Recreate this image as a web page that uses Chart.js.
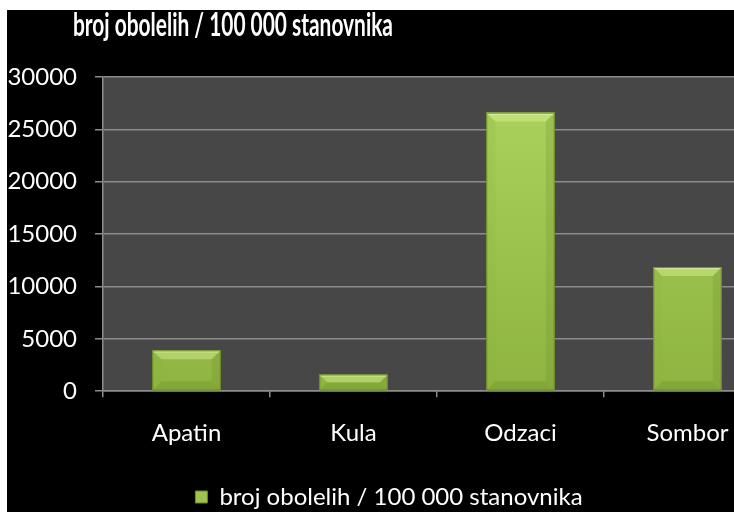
<!DOCTYPE html>
<html>
<head>
<meta charset="utf-8">
<script src="https://cdn.jsdelivr.net/npm/chart.js@4.4.1/dist/chart.umd.min.js"></script>
<style>
  html, body { margin: 0; padding: 0; background: #fff; width: 734px; height: 512px; overflow: hidden; }
  #wrap { position: absolute; left: 7px; top: 10px; width: 774px; height: 502px; background: #000; }
  #title { position: absolute; left: 66px; top: -6px; color: #fff; font: bold 32px Lato, sans-serif; white-space: nowrap; transform-origin: 0 0; }
  canvas { position: absolute; left: 0; top: 0; }
</style>
</head>
<body>
<div id="wrap">
  <canvas id="chart" width="774" height="502"></canvas>
  <div id="title">broj obolelih  / 100 000 stanovnika</div>
</div>
<script>
const categories = ['Apatin', 'Kula', 'Odzaci', 'Sombor'];
const values = [3900, 1600, 26600, 11850];
const seriesName = 'broj obolelih / 100 000 stanovnika';
const yTicks = [0, 5000, 10000, 15000, 20000, 25000, 30000];

// title is squeezed horizontally like in the original
const titleEl = document.getElementById('title');
titleEl.style.transform = 'scaleX(' + (320 / titleEl.offsetWidth) + ')';

// gray plot area behind the bars
const plotBg = {
    id: 'plotBg',
    beforeDraw(chart) {
        const a = chart.chartArea;
        const ctx = chart.ctx;
        ctx.save();
        ctx.fillStyle = '#474747';
        ctx.fillRect(a.left, a.top, a.right - a.left, a.bottom - a.top);
        ctx.restore();
    }
};

// excel-like bevel on each bar
const bevel = {
    id: 'bevel',
    afterDatasetsDraw(chart) {
        const ctx = chart.ctx;
        chart.getDatasetMeta(0).data.forEach(bar => {
            const l = bar.x - bar.width / 2, r = bar.x + bar.width / 2;
            const t = bar.y, b = bar.base;
            const d = Math.min(9, (b - t) / 2);
            ctx.save();
            // top
            ctx.fillStyle = 'rgba(225,250,160,0.4)';
            ctx.beginPath();
            ctx.moveTo(l, t); ctx.lineTo(r, t); ctx.lineTo(r - d, t + d); ctx.lineTo(l + d, t + d);
            ctx.closePath(); ctx.fill();
            // left
            ctx.fillStyle = 'rgba(140,180,60,0.2)';
            ctx.beginPath();
            ctx.moveTo(l, t); ctx.lineTo(l + d, t + d); ctx.lineTo(l + d, b - d); ctx.lineTo(l, b);
            ctx.closePath(); ctx.fill();
            // right
            ctx.fillStyle = 'rgba(100,130,40,0.2)';
            ctx.beginPath();
            ctx.moveTo(r, t); ctx.lineTo(r - d, t + d); ctx.lineTo(r - d, b - d); ctx.lineTo(r, b);
            ctx.closePath(); ctx.fill();
            // bottom
            ctx.fillStyle = 'rgba(90,120,30,0.22)';
            ctx.beginPath();
            ctx.moveTo(l, b); ctx.lineTo(l + d, b - d); ctx.lineTo(r - d, b - d); ctx.lineTo(r, b);
            ctx.closePath(); ctx.fill();
            // light top edge
            ctx.strokeStyle = 'rgba(235,255,180,0.7)';
            ctx.beginPath();
            ctx.moveTo(l + 1, t + 1.5); ctx.lineTo(r - 1, t + 1.5);
            ctx.stroke();
            ctx.strokeStyle = '#6a8a28';
            ctx.lineWidth = 1;
            ctx.strokeRect(l + 0.5, t + 0.5, r - l - 1, b - t - 1);
            ctx.restore();
        });
    }
};

function barFill(context) {
    const chart = context.chart;
    const a = chart.chartArea;
    if (!a) return '#9cc44e';
    const g = chart.ctx.createLinearGradient(0, a.top, 0, a.bottom);
    g.addColorStop(0, '#acd45e');
    g.addColorStop(1, '#8fb441');
    return g;
}

new Chart(document.getElementById('chart'), {
    type: 'bar',
    data: {
        labels: categories,
        datasets: [{
            label: seriesName,
            data: values,
            backgroundColor: barFill,
            borderWidth: 0,
            categoryPercentage: 1,
            barPercentage: 0.41
        }]
    },
    options: {
        responsive: false,
        animation: false,
        layout: { padding: { top: 67, left: 0, right: 10, bottom: -7 } },
        scales: {
            x: {
                afterFit: axis => { axis.height += 9; },
                grid: { drawOnChartArea: false, drawTicks: true, tickLength: 6, color: '#8c8c8c', lineWidth: 1.5 },
                border: { color: '#8c8c8c', width: 1.5 },
                ticks: { color: '#fff', font: { family: 'Lato', size: 24 }, padding: 22 }
            },
            y: {
                min: 0,
                max: 30000,
                afterBuildTicks: axis => { axis.ticks = yTicks.map(v => ({ value: v })); },
                afterFit: axis => { axis.width = 96; },
                grid: { color: '#8c8c8c', lineWidth: 1.5, tickLength: 8 },
                border: { color: '#8c8c8c', width: 1.5 },
                ticks: {
                    color: '#fff',
                    font: { family: 'Lato', size: 24 },
                    padding: 18,
                    callback: v => String(v)
                }
            }
        },
        plugins: {
            legend: {
                position: 'bottom',
                labels: {
                    color: '#fff',
                    font: { family: 'Lato', size: 24 },
                    boxWidth: 12,
                    boxHeight: 12,
                    padding: 6,
                    generateLabels: chart => [{
                        text: seriesName,
                        fillStyle: '#9cc44e',
                        strokeStyle: '#6a8a28',
                        lineWidth: 1,
                        fontColor: '#fff',
                        datasetIndex: 0
                    }]
                }
            },
            tooltip: { enabled: false }
        }
    },
    plugins: [plotBg, bevel]
});
</script>
</body>
</html>
